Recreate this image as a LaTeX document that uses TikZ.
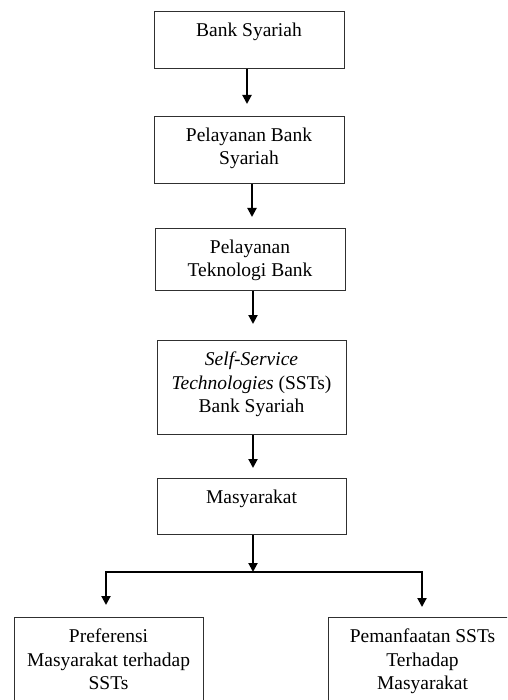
\documentclass[tikz,border=0pt]{standalone}
\usepackage{fontspec}
\setmainfont{Liberation Serif}
\usetikzlibrary{arrows.meta,calc}
\newcommand{\boxtxt}[3]{\parbox[t][#1pt][t]{#2pt}{\centering\rule{0pt}{25pt}#3}}
\definecolor{edge}{HTML}{303030}
\tikzset{
  box/.style={draw=edge, line width=1pt, inner sep=0pt, anchor=north,
    font=\fontsize{19.5}{23.5}\selectfont},
  arr/.style={line width=2pt, -{Triangle[width=9pt,length=9pt]}}
}
\begin{document}
\begin{tikzpicture}[x=1pt,y=-1pt]
\useasboundingbox (0,0) rectangle (507,700);
\clip (0,0) rectangle (507,700);
\node[box] (b1) at (249,11) {\boxtxt{57}{190}{Bank Syariah}};
\node[box] (b2) at (249,116) {\boxtxt{67}{190}{Pelayanan Bank\\Syariah}};
\node[box] (b3) at (250,228) {\boxtxt{62}{190}{Pelayanan\\Teknologi Bank}};
\node[box] (b4) at (251.5,340) {\boxtxt{94}{189}{\textit{Self-Service}\\\textit{Technologies} (SSTs)\\Bank Syariah}};
\node[box] (b5) at (251.5,478) {\boxtxt{56}{189}{Masyarakat}};
\node[box] (b6) at (108.5,617) {\boxtxt{110}{189}{Preferensi\\Masyarakat terhadap\\SSTs}};
\node[box] (b7) at (422.5,617) {\boxtxt{110}{189}{Pemanfaatan SSTs\\Terhadap\\Masyarakat}};
\coordinate (jm) at (253,572);
\draw[arr, shorten >=12pt] ([xshift=-2pt]b1.south) -- ([xshift=-2pt]b1.south |- b2.north);
\draw[arr, shorten >=11pt] ([xshift=3pt]b2.south) -- ([xshift=3pt]b2.south |- b3.north);
\draw[arr, shorten >=16pt] ([xshift=3pt]b3.south) -- ([xshift=3pt]b3.south |- b4.north);
\draw[arr, shorten >=10pt] ([xshift=1.5pt]b4.south) -- ([xshift=1.5pt]b4.south |- b5.north);
\draw[arr] ([xshift=1.5pt]b5.south) -- (jm);
\draw[arr, shorten >=12pt] (jm) -| ([xshift=-2.5pt]b6.north);
\draw[arr, shorten >=10pt] (jm) -| ([xshift=-0.5pt]b7.north);
\end{tikzpicture}
\end{document}
